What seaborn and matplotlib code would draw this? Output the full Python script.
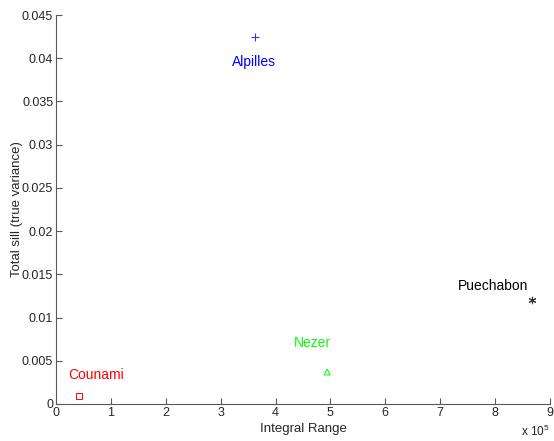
import seaborn as sns
import matplotlib.pyplot as plt
import pandas as pd

# Data
sites = ["Counami", "Alpilles", "Nezer", "Puechabon"]
integral_range = [0.42e5, 3.62e5, 4.94e5, 8.67e5]
total_sill = [0.0009, 0.0425, 0.0037, 0.0120]
x_ticks = [0, 1, 2, 3, 4, 5, 6, 7, 8, 9]
y_ticks = [0, 0.005, 0.01, 0.015, 0.02, 0.025, 0.03, 0.035, 0.04, 0.045]

df = pd.DataFrame({"site": sites, "ir": integral_range, "sill": total_sill})
df["ir5"] = df["ir"] / 1e5

# styles / label placement
colors = {"Counami": "#ff0000", "Alpilles": "#0000ff", "Nezer": "#00ff00", "Puechabon": "#000000"}
markers = {"Counami": "s", "Alpilles": "+", "Nezer": "^", "Puechabon": (6, 2, 0)}
label_off = {"Counami": (0.31, 0.0024), "Alpilles": (-0.02, -0.0029),
             "Nezer": (-0.27, 0.0033), "Puechabon": (-0.71, 0.0017)}

sns.set_theme(style="ticks")
plt.rcParams['font.family'] = ['Liberation Sans', 'DejaVu Sans']
plt.rcParams['mathtext.default'] = 'regular'

fig = plt.figure(figsize=(5.54, 4.41), dpi=100)
ax = fig.add_axes([56 / 554, 37 / 441, 494 / 554, 389 / 441])

for s in sites:
    sub = df[df["site"] == s]
    m = markers[s]
    if m == "+" or isinstance(m, tuple):
        sns.scatterplot(data=sub, x="ir5", y="sill", hue="site", palette={s: colors[s]},
                        marker=m, s=28 if m == "+" else 22,
                        linewidth=0.8, alpha=0.8, ax=ax, legend=False)
    else:
        sns.scatterplot(data=sub, x="ir5", y="sill", marker=m, facecolor="none",
                        edgecolor=colors[s], s=18, linewidth=0.7, ax=ax, legend=False)
    dx, dy = label_off[s]
    ax.text(sub["ir5"].iloc[0] + dx, sub["sill"].iloc[0] + dy, s, color=colors[s],
            fontsize=10, ha="center", va="center")

ax.set_xlim(0, 9)
ax.set_ylim(0, 0.045)
ax.set_xticks(x_ticks)
ax.set_xticklabels([str(t) for t in x_ticks])
ax.set_yticks(y_ticks)
ax.set_yticklabels(["0", "0.005", "0.01", "0.015", "0.02", "0.025", "0.03", "0.035", "0.04", "0.045"])

for side in ['top', 'right']:
    ax.spines[side].set_visible(False)
for side in ['left', 'bottom']:
    ax.spines[side].set_linewidth(0.8)
    ax.spines[side].set_color('0.35')
ax.tick_params(direction='in', length=4, width=0.8, color='0.35', labelsize=9, pad=2)

ax.set(xlabel="Integral Range", ylabel="Total sill (true variance)")
ax.xaxis.label.set_size(9.5)
ax.yaxis.label.set_size(9.5)
ax.xaxis.labelpad = 3
ax.yaxis.set_label_coords(-0.066, 0.5)

ax.text(1.0, -0.052, r"x 10$^{5}$", transform=ax.transAxes, ha="right", va="top", fontsize=8.5)

plt.savefig('out.png', dpi=100)
